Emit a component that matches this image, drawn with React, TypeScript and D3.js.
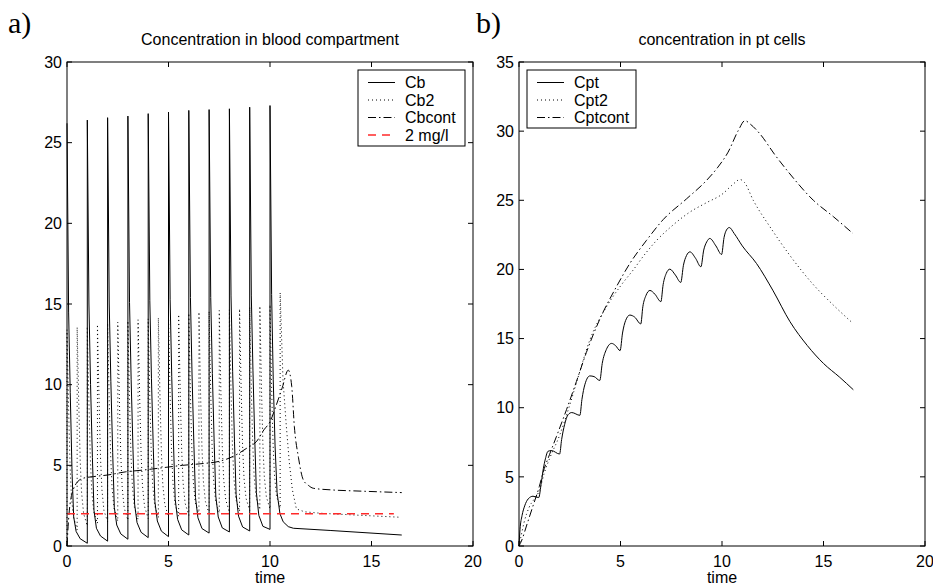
import React from "react";
import * as d3 from "d3";

// ---------- data ----------
// Panel a) Cb: one bolus per day. Row = [doseTime, troughBeforeDose, peak, c(+0.08), c(+0.16), c(+0.25), c(+0.33), c(+0.45), c(+0.65)]
const cbOffsets = [0.08, 0.16, 0.25, 0.33, 0.45, 0.65];
const cbPulses: number[][] = [
  [0, 26.2, 26.2, 14.5, 9.5, 4.5, 1.8, 0.9, 0.45],
  [1, 0.17, 26.4, 15.0, 10.0, 5.5, 2.2, 1.1, 0.62],
  [2, 0.3, 26.55, 15.0, 10.2, 5.8, 2.4, 1.3, 0.75],
  [3, 0.42, 26.65, 15.1, 10.3, 6.0, 2.6, 1.45, 0.85],
  [4, 0.52, 26.8, 15.2, 10.4, 6.1, 2.75, 1.55, 0.92],
  [5, 0.58, 26.9, 15.3, 10.5, 6.2, 2.9, 1.65, 1.0],
  [6, 0.68, 27.0, 15.4, 10.6, 6.3, 3.0, 1.75, 1.08],
  [7, 0.8, 27.05, 15.4, 10.7, 6.4, 3.1, 1.8, 1.12],
  [8, 0.87, 27.1, 15.5, 10.8, 6.5, 3.2, 1.85, 1.18],
  [9, 0.93, 27.2, 15.5, 10.9, 6.6, 3.3, 1.9, 1.22],
];
const cbTail: [number, number][] = [
  [10, 1.03], [10, 27.3], [10.08, 15.6], [10.16, 10.3], [10.25, 6.2], [10.35, 3.3],
  [10.49, 2.0], [10.65, 1.5], [10.9, 1.2], [11.15, 1.1], [13, 0.96], [16.49, 0.68],
];

// Cb2: half dose twice a day. Row = [doseTime, troughBeforeDose, peak, c(+0.08), c(+0.15), c(+0.22), c(+0.32)]
const cb2Offsets = [0.08, 0.15, 0.22, 0.32];
const cb2Pulses: number[][] = [
  [0, 0, 13.4, 8.5, 5.0, 3.0, 1.8],
  [0.5, 1.0, 13.56, 8.8, 5.3, 3.3, 2.0],
  [1.0, 1.25, 13.6, 8.9, 5.4, 3.4, 2.1],
  [1.5, 1.4, 13.73, 9.0, 5.5, 3.5, 2.2],
  [2.0, 1.5, 13.8, 9.0, 5.6, 3.6, 2.3],
  [2.5, 1.55, 13.87, 9.1, 5.6, 3.6, 2.35],
  [3.0, 1.6, 13.95, 9.1, 5.7, 3.7, 2.4],
  [3.5, 1.65, 14.02, 9.2, 5.7, 3.7, 2.45],
  [4.0, 1.7, 14.08, 9.2, 5.8, 3.8, 2.5],
  [4.5, 1.75, 14.14, 9.3, 5.8, 3.8, 2.55],
  [5.0, 1.8, 14.25, 9.3, 5.9, 3.9, 2.6],
  [5.5, 1.85, 14.35, 9.4, 5.9, 3.9, 2.65],
  [6.0, 1.9, 14.42, 9.4, 6.0, 4.0, 2.7],
  [6.5, 1.95, 14.5, 9.5, 6.0, 4.0, 2.75],
  [7.0, 2.0, 14.55, 9.5, 6.1, 4.1, 2.8],
  [7.5, 2.05, 14.6, 9.6, 6.1, 4.1, 2.85],
  [8.0, 2.1, 14.65, 9.6, 6.2, 4.2, 2.9],
  [8.5, 2.15, 14.7, 9.7, 6.2, 4.2, 2.95],
  [9.0, 2.2, 14.8, 9.7, 6.3, 4.3, 3.0],
  [9.5, 2.25, 14.87, 9.8, 6.3, 4.3, 3.05],
  [10.0, 2.3, 14.95, 9.8, 6.4, 4.4, 3.1],
];
const cb2Tail: [number, number][] = [
  [10.5, 2.35], [10.5, 15.7], [10.64, 10.3], [10.8, 7.5], [10.95, 5.2], [11.1, 3.5],
  [11.3, 2.3], [11.7, 2.12], [12.5, 2.03], [14.5, 1.9], [16.45, 1.78],
];

const cbcont: [number, number][] = [
  [0, 0], [0.1, 2.0], [0.2, 3.0], [0.31, 3.5], [0.5, 3.95], [0.8, 4.2], [1.3, 4.3], [2, 4.4],
  [2.9, 4.6], [3.7, 4.7], [4.7, 4.85], [5.7, 5.0], [6.6, 5.1], [7.5, 5.25], [8.0, 5.45],
  [8.4, 5.7], [8.9, 6.1], [9.35, 6.5], [9.7, 7.2], [10.0, 7.7], [10.3, 8.7], [10.6, 9.8],
  [10.9, 10.9], [11.07, 9.9], [11.2, 7.4], [11.4, 5.5], [11.64, 4.1], [11.9, 3.75],
  [12.13, 3.58], [13, 3.48], [14.5, 3.4], [16.49, 3.31],
];
const limitLine: [number, number][] = [[0, 2], [16.1, 2]];

// Panel b)
const cpt: [number, number][] = [
  [0, 0], [0.05, 1.2], [0.15, 2.2], [0.28, 2.9], [0.45, 3.4], [0.69, 3.6], [0.97, 3.5],
  [1.1, 4.6], [1.2, 5.6], [1.3, 6.3], [1.43, 6.85], [1.6, 6.9], [2.0, 6.65],
  [2.1, 7.7], [2.25, 8.8], [2.42, 9.5], [2.6, 9.65], [3.0, 9.45],
  [3.1, 10.6], [3.25, 11.7], [3.49, 12.3], [3.7, 12.25], [3.98, 11.97],
  [4.1, 13.2], [4.3, 14.2], [4.56, 14.65], [4.75, 14.5], [4.98, 14.13],
  [5.1, 15.4], [5.25, 16.3], [5.46, 16.7], [5.7, 16.55], [6.0, 16.06],
  [6.1, 17.3], [6.25, 18.1], [6.45, 18.48], [6.7, 18.2], [6.99, 17.67],
  [7.1, 18.9], [7.25, 19.7], [7.43, 20.02], [7.7, 19.6], [7.97, 19.06],
  [8.1, 20.3], [8.25, 21.0], [8.42, 21.27], [8.7, 20.8], [8.96, 20.19],
  [9.1, 21.4], [9.25, 22.0], [9.4, 22.24], [9.7, 21.7], [9.98, 21.08],
  [10.1, 22.3], [10.22, 22.85], [10.36, 23.03], [10.6, 22.6], [11.0, 21.7],
  [11.7, 20.43], [12.5, 18.5], [13.35, 16.22], [14.2, 14.5], [15.0, 13.2], [15.8, 12.2], [16.47, 11.3],
];
const cpt2: [number, number][] = [
  [0, 0], [0.1, 0.7], [0.25, 1.7], [0.5, 2.8], [0.75, 3.4], [1.0, 4.0], [1.25, 5.3], [1.5, 6.3],
  [2.0, 8.0], [2.5, 10.2], [2.91, 12.2], [3.49, 14.9], [4.31, 17.3], [5.0, 18.8], [5.62, 19.95],
  [6.2, 21.1], [6.78, 22.1], [7.5, 23.1], [8.42, 24.15], [9.2, 24.8], [10.06, 25.5], [10.5, 26.1],
  [10.89, 26.5], [11.1, 26.3], [11.54, 25.0], [12.4, 23.0], [13.35, 21.0], [14.5, 18.9],
  [15.5, 17.4], [16.45, 16.1],
];
const cptcont: [number, number][] = [
  [0, 0], [0.12, 0.36], [0.4, 1.6], [0.69, 2.9], [1.0, 4.3], [1.18, 5.3], [1.5, 6.6], [1.84, 7.9],
  [2.34, 9.86], [2.83, 11.9], [3.32, 14.0], [3.98, 16.4], [4.8, 18.75], [5.46, 20.43], [6.28, 22.1],
  [7.1, 23.6], [8.25, 25.1], [9.24, 26.44], [9.8, 27.4], [10.3, 28.48], [10.8, 30.04], [11.13, 30.76],
  [11.4, 30.5], [11.87, 29.8], [12.6, 28.3], [13.35, 26.9], [14.5, 25.0], [15.5, 23.8], [16.45, 22.6],
];

const xTicks = [0, 5, 10, 15, 20];
const yTicksA = [0, 5, 10, 15, 20, 25, 30];
const yTicksB = [0, 5, 10, 15, 20, 25, 30, 35];
const legendA = ["Cb", "Cb2", "Cbcont", "2 mg/l"];
const legendB = ["Cpt", "Cpt2", "Cptcont"];

// ---------- helpers ----------
function pulsesToPoints(rows: number[][], offsets: number[]): [number, number][] {
  const pts: [number, number][] = [];
  rows.forEach((r) => {
    const t = r[0];
    pts.push([t, r[1]]);
    pts.push([t, r[2]]);
    offsets.forEach((o, i) => pts.push([t + o, r[3 + i]]));
  });
  return pts;
}

const FONT = "'Liberation Sans', Arial, Helvetica, sans-serif";
const SOLID = "none";
const DOT = "1,3";
const DASHDOT = "8,3,1.5,3";
const DASH = "8,6";

type Series = { pts: [number, number][]; dash: string; color: string; smooth?: boolean; width?: number };

function Panel(props: {
  x0: number; x1: number; y0: number; y1: number; ymax: number; yTicks: number[];
  title: string; series: Series[]; legend: string[]; legendStyles: { dash: string; color: string; width?: number }[];
  legendBox: { x: number; y: number; w: number; h: number };
}) {
  const { x0, x1, y0, y1, ymax, yTicks, title, series, legend, legendStyles, legendBox } = props;
  const x = d3.scaleLinear().domain([0, 20]).range([x0, x1]);
  const y = d3.scaleLinear().domain([0, ymax]).range([y1, y0]);
  const line = d3.line<[number, number]>().x((d) => x(d[0])).y((d) => y(d[1]));
  const smoothLine = d3.line<[number, number]>().x((d) => x(d[0])).y((d) => y(d[1])).curve(d3.curveMonotoneX);
  const tl = 5;
  return (
    <g>
      <text x={(x0 + x1) / 2} y={45} textAnchor="middle" fontFamily={FONT} fontSize={16}>{title}</text>
      {series.map((s, i) => (
        <path key={i} d={(s.smooth ? smoothLine(s.pts) : line(s.pts)) || ""} fill="none" stroke={s.color}
          strokeWidth={s.width ?? 1}
          strokeDasharray={s.dash === SOLID ? undefined : s.dash} />
      ))}
      <rect x={x0} y={y0} width={x1 - x0} height={y1 - y0} fill="none" stroke="#000" strokeWidth={1} />
      {xTicks.map((t) => (
        <g key={"x" + t}>
          <line x1={x(t)} x2={x(t)} y1={y1} y2={y1 - tl} stroke="#000" />
          <line x1={x(t)} x2={x(t)} y1={y0} y2={y0 + tl} stroke="#000" />
          <text x={x(t)} y={567} textAnchor="middle" fontFamily={FONT} fontSize={16}>{t}</text>
        </g>
      ))}
      {yTicks.map((t) => (
        <g key={"y" + t}>
          <line x1={x0} x2={x0 + tl} y1={y(t)} y2={y(t)} stroke="#000" />
          <line x1={x1} x2={x1 - tl} y1={y(t)} y2={y(t)} stroke="#000" />
          <text x={x0 - 5} y={y(t)} dy="0.36em" textAnchor="end" fontFamily={FONT} fontSize={16}>{t}</text>
        </g>
      ))}
      <text x={(x0 + x1) / 2} y={583} textAnchor="middle" fontFamily={FONT} fontSize={16}>time</text>
      <rect x={legendBox.x} y={legendBox.y} width={legendBox.w} height={legendBox.h} fill="#fff" stroke="#000" strokeWidth={1} />
      {legend.map((name, i) => {
        const ly = legendBox.y + 12.5 + i * 17.5;
        const st = legendStyles[i];
        return (
          <g key={name}>
            <line x1={legendBox.x + 10} x2={legendBox.x + 37} y1={ly} y2={ly} stroke={st.color}
              strokeWidth={st.width ?? 1}
              strokeDasharray={st.dash === SOLID ? undefined : st.dash} />
            <text x={legendBox.x + 47} y={ly} dy="0.36em" fontFamily={FONT} fontSize={16}>{name}</text>
          </g>
        );
      })}
    </g>
  );
}

export default function App() {
  const cb = [...pulsesToPoints(cbPulses, cbOffsets).slice(1), ...cbTail];
  const cb2 = [...pulsesToPoints(cb2Pulses, cb2Offsets), ...cb2Tail];
  const RED = "#ff2a2a";
  const seriesA: Series[] = [
    { pts: cb2, dash: DOT, color: "#000" },
    { pts: cbcont, dash: DASHDOT, color: "#000", smooth: true },
    { pts: cb, dash: SOLID, color: "#000" },
    { pts: limitLine, dash: DASH, color: RED, width: 1.5 },
  ];
  const seriesB: Series[] = [
    { pts: cpt, dash: SOLID, color: "#000", smooth: true },
    { pts: cpt2, dash: DOT, color: "#000", smooth: true },
    { pts: cptcont, dash: DASHDOT, color: "#000", smooth: true },
  ];
  return (
    <svg width={933} height={585} style={{ position: "absolute", left: 0, top: 0, background: "#fff" }}>
      <rect width={933} height={585} fill="#fff" />
      <text x={8} y={33} fontFamily="'Liberation Serif', 'Times New Roman', serif" fontSize={30}>a)</text>
      <text x={476} y={33} fontFamily="'Liberation Serif', 'Times New Roman', serif" fontSize={30}>b)</text>
      <Panel x0={67} x1={473} y0={62} y1={546} ymax={30} yTicks={yTicksA}
        title="Concentration in blood compartment" series={seriesA} legend={legendA}
        legendStyles={[{ dash: SOLID, color: "#000" }, { dash: DOT, color: "#000" }, { dash: DASHDOT, color: "#000" }, { dash: DASH, color: RED, width: 1.5 }]}
        legendBox={{ x: 358, y: 70, w: 107, h: 76 }} />
      <Panel x0={519} x1={925} y0={62} y1={546} ymax={35} yTicks={yTicksB}
        title="concentration in pt cells" series={seriesB} legend={legendB}
        legendStyles={[{ dash: SOLID, color: "#000" }, { dash: DOT, color: "#000" }, { dash: DASHDOT, color: "#000" }]}
        legendBox={{ x: 527, y: 70, w: 109, h: 58 }} />
    </svg>
  );
}
